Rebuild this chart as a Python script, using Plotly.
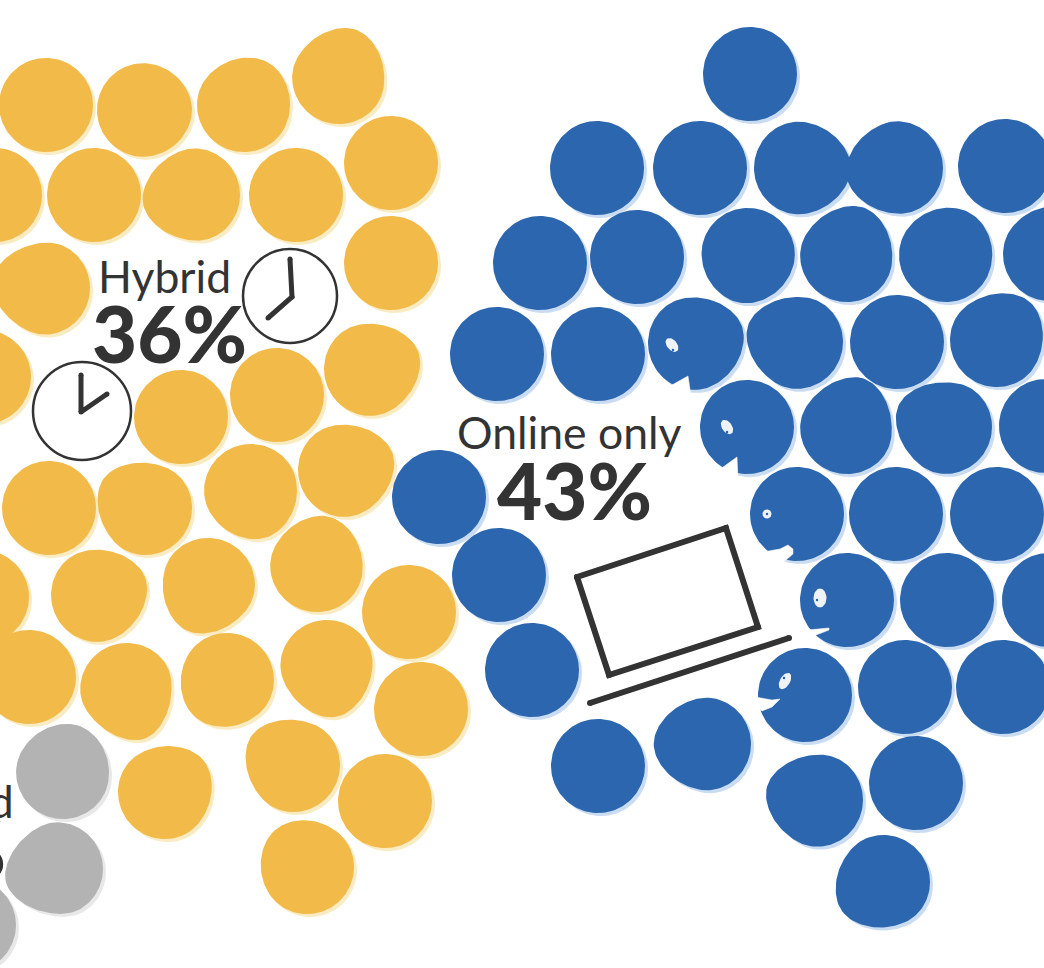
import math
import plotly.graph_objects as go

W, H = 1044, 968
R = 47

# Each blob: centre x, centre y, bulge size, bulge direction in degrees (y down)
yellow_x = [339, 46, 144, 244, 391, -5, 94, 193, 296, 391, 43, -16, 371, 277, 181, 345, 251, 145, 49, -18, 98, 208, 317, 409, 29, 127, 227, 327, 421, 293, 165, 385, 307]
yellow_y = [77, 105, 110, 105, 163, 195, 195, 195, 195, 263, 288, 377, 369, 395, 417, 470, 491, 508, 508, 597, 595, 585, 565, 612, 677, 690, 680, 667, 709, 765, 792, 801, 867]
yellow_a = [.07, 0, .02, .04, 0, 0, 0, .08, 0, 0, .09, 0, .07, 0, 0, .07, .04, .08, 0, 0, .07, .07, .06, 0, 0, .1, .04, .08, 0, .08, .06, 0, .04]
yellow_d = [290, 0, 0, 300, 0, 0, 0, 170, 0, 0, 190, 0, 340, 0, 0, 340, 70, 215, 0, 0, 340, 115, 285, 0, 0, 70, 130, 80, 0, 215, 320, 0, 230]

blue_x = [750, 597, 700, 801, 896, 1005, 540, 637, 748, 847, 946, 1050, 497, 598, 695, 796, 897, 997, 747, 847, 945, 1046, 439, 797, 896, 997, 499, 847, 947, 1049, 532, 805, 905, 1003, 598, 704, 816, 916, 883]
blue_y = [74, 168, 168, 168, 168, 166, 263, 257, 255, 255, 255, 254, 354, 354, 343, 342, 342, 340, 427, 427, 427, 426, 497, 514, 514, 514, 575, 600, 600, 600, 670, 695, 687, 687, 766, 744, 800, 783, 882]
blue_a = [0, 0, 0, .06, .07, 0, 0, 0, .03, .07, .03, .04, 0, 0, .06, .08, 0, .07, 0, .09, .09, 0, 0, 0, 0, 0, 0, 0, 0, 0, 0, 0, 0, 0, 0, .07, .08, 0, .07]
blue_d = [0, 0, 0, 0, 170, 0, 0, 0, 100, 290, 300, 300, 0, 0, 340, 200, 0, 310, 0, 290, 205, 0, 0, 0, 0, 0, 0, 0, 0, 0, 0, 0, 0, 0, 0, 180, 195, 0, 145]

gray_x = [63, 56, -31]
gray_y = [772, 869, 925]
gray_a = [.04, .1, 0]
gray_d = [290, 165, 0]

eye_x = [672, 727, 767, 820, 785]
eye_y = [345, 427, 514, 598, 681]
eye_w = [5, 5, 4.5, 6.5, 5]
eye_h = [8, 8, 4.5, 9.5, 9]
eye_tilt = [-40, -35, 0, 0, 30]
pupil_x = [673, 727, 767, 817, 784]
pupil_y = [350, 432, 514, 600, 678]

mouth_1_x = [672, 688, 691, 680]
mouth_1_y = [385, 376, 396, 396]
mouth_2_x = [719, 737, 738, 725]
mouth_2_y = [470, 457, 480, 480]
mouth_3_x = [763, 780, 788, 793, 793, 786, 778, 768]
mouth_3_y = [552, 549, 545, 549, 554, 560, 563, 560]
mouth_4_x = [807, 829, 829, 818, 811]
mouth_4_y = [630, 628, 630, 634, 637]
mouth_5_x = [755, 772, 780, 772, 762, 755]
mouth_5_y = [697, 700, 699, 707, 711, 705]

screen_x = [577, 726, 758, 609, 577]
screen_y = [577, 528, 627, 675, 577]
base_x = [590, 789]
base_y = [703, 638]

clock_x = [290, 82]
clock_y = [296, 411]
hands_1_x = [290, 292, 268]
hands_1_y = [259, 297, 318]
hands_2_x = [81, 81, 107]
hands_2_y = [375, 412, 394]

labels = ["Hybrid", "Online only", "Campus-based"]
label_x = [164, 569, 16]
label_y = [275, 431, 800]
shares = ["36%", "43%", "21%"]
share_x = [169, 574, 8]
share_y = [333, 490, 848]

YELLOW, YELLOW_S = "#F2BA49", "#F9EBC2"
BLUE, BLUE_S = "#2C66AE", "#C9DCF1"
GRAY, GRAY_S = "#B3B3B3", "#E8E8E8"
INK = "#333333"


def outlines(xs, ys, amps, dirs, dx=0, dy=0):
    ox, oy = [], []
    for x, y, a, d in zip(xs, ys, amps, dirs):
        for i in range(121):
            t = 2 * math.pi * i / 120
            c = math.cos(t - math.radians(d))
            delta = abs((math.degrees(t) - d + 180) % 360 - 180)
            r = R * (1 + a * max(c, 0) ** 10 - a * 0.55 * math.exp(-(((delta - 65) / 28) ** 2)))
            ox.append(x + dx + r * math.cos(t))
            oy.append(y + dy + r * math.sin(t))
        ox.append(None)
        oy.append(None)
    return ox, oy


def ellipses(xs, ys, ws, hs, tilts):
    ox, oy = [], []
    for x, y, w, h, tilt in zip(xs, ys, ws, hs, tilts):
        k = math.radians(tilt)
        for i in range(37):
            t = 2 * math.pi * i / 36
            u, v = w * math.cos(t), h * math.sin(t)
            ox.append(x + u * math.cos(k) - v * math.sin(k))
            oy.append(y + u * math.sin(k) + v * math.cos(k))
        ox.append(None)
        oy.append(None)
    return ox, oy


fig = go.Figure()


def blob_group(xs, ys, amps, dirs, col, shade, name):
    sx, sy = outlines(xs, ys, amps, dirs, 3, 3)
    mx, my = outlines(xs, ys, amps, dirs)
    fig.add_trace(go.Scatter(x=sx, y=sy, mode="lines", fill="toself", fillcolor=shade,
                             line=dict(width=0, color=shade), hoverinfo="skip", name=name + " shadow"))
    fig.add_trace(go.Scatter(x=mx, y=my, mode="lines", fill="toself", fillcolor=col,
                             line=dict(width=0, color=col), hoverinfo="skip", name=name))


blob_group(yellow_x, yellow_y, yellow_a, yellow_d, YELLOW, YELLOW_S, "Hybrid")
blob_group(blue_x, blue_y, blue_a, blue_d, BLUE, BLUE_S, "Online only")
blob_group(gray_x, gray_y, gray_a, gray_d, GRAY, GRAY_S, "Campus")

for mx, my in [(mouth_1_x, mouth_1_y), (mouth_2_x, mouth_2_y), (mouth_3_x, mouth_3_y),
               (mouth_4_x, mouth_4_y), (mouth_5_x, mouth_5_y)]:
    fig.add_trace(go.Scatter(x=mx + mx[:1], y=my + my[:1], mode="lines", fill="toself",
                             fillcolor="white", line=dict(width=0.5, color="white"), hoverinfo="skip"))

ex, ey = ellipses(eye_x, eye_y, eye_w, eye_h, eye_tilt)
fig.add_trace(go.Scatter(x=ex, y=ey, mode="lines", fill="toself", fillcolor="#EFF3F8",
                         line=dict(width=0, color="#EFF3F8"), hoverinfo="skip"))
fig.add_trace(go.Scatter(x=pupil_x, y=pupil_y, mode="markers", marker=dict(size=2.5, color=BLUE, opacity=1), hoverinfo="skip"))

fig.add_trace(go.Scatter(x=clock_x, y=clock_y, mode="markers", hoverinfo="skip",
                         marker=dict(size=[94, 98], color="white", opacity=1, line=dict(color=INK, width=2.5))))
for hx, hy in [(hands_1_x, hands_1_y), (hands_2_x, hands_2_y)]:
    fig.add_trace(go.Scatter(x=hx, y=hy, mode="lines+markers", line=dict(color=INK, width=5),
                             marker=dict(size=5, color=INK), hoverinfo="skip"))

for lx, ly in [(screen_x, screen_y), (base_x, base_y)]:
    fig.add_trace(go.Scatter(x=lx, y=ly, mode="lines+markers", line=dict(color=INK, width=6),
                             marker=dict(size=6, color=INK), hoverinfo="skip"))

for i in range(3):
    anchor = "right" if i == 2 else "center"
    fig.add_annotation(x=label_x[i], y=label_y[i], text=labels[i], showarrow=False, xanchor=anchor,
                       yanchor="middle", font=dict(family="Lato", size=44.5, color=INK))
    fig.add_annotation(x=share_x[i], y=share_y[i], text=shares[i], showarrow=False, xanchor=anchor,
                       yanchor="middle", font=dict(family="Lato", size=78, color=INK, weight=900))

fig.update_layout(
    width=W, height=H, margin=dict(l=0, r=0, t=0, b=0), showlegend=False,
    paper_bgcolor="white", plot_bgcolor="white",
    xaxis=dict(range=[0, W], visible=False, fixedrange=True),
    yaxis=dict(range=[H, 0], visible=False, fixedrange=True),
)
fig.write_html("out.html", config={"displayModeBar": False}, post_script="document.body.style.margin='0';")
